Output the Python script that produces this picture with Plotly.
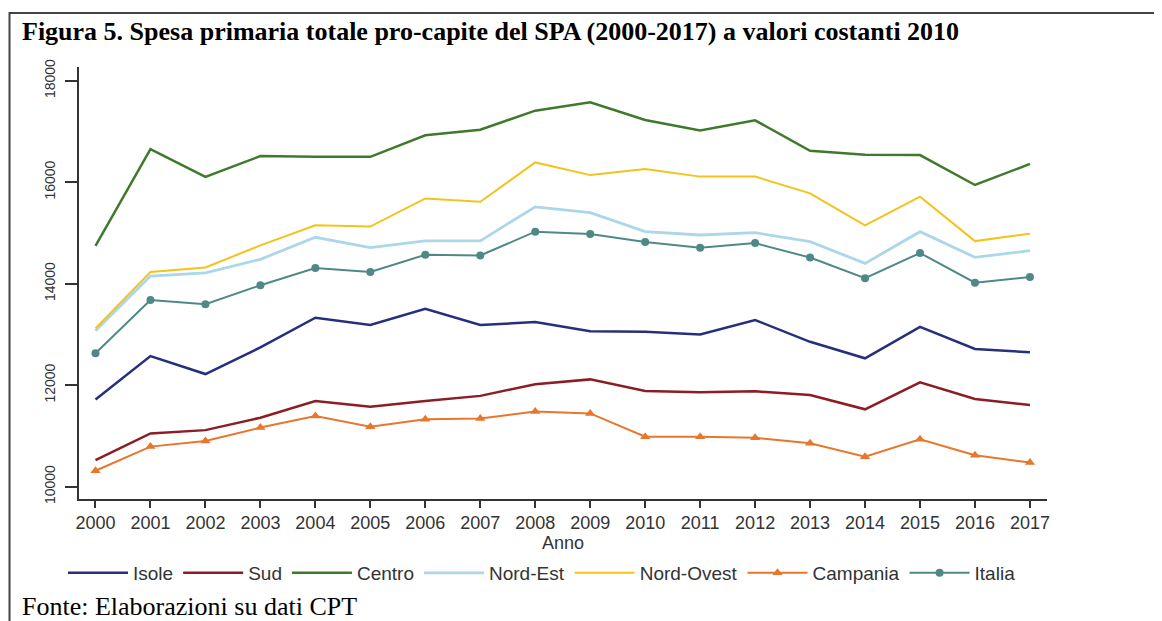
import plotly.graph_objects as go

# Data
anni = list(range(2000, 2018))

isole = [11720, 12575, 12220, 12745, 13330, 13185, 13505, 13185, 13245,
         13065, 13055, 13000, 13285, 12855, 12530, 13150, 12715, 12650]
sud = [10525, 11050, 11115, 11360, 11690, 11575, 11690, 11790, 12020,
       12115, 11885, 11860, 11880, 11805, 11525, 12055, 11730, 11610]
centro = [14745, 16650, 16105, 16515, 16500, 16500, 16925, 17035, 17410,
          17575, 17225, 17020, 17220, 16620, 16540, 16535, 15945, 16360]
nord_est = [13075, 14150, 14215, 14480, 14915, 14710, 14845, 14845, 15515,
            15400, 15025, 14960, 15005, 14830, 14400, 15025, 14520, 14650]
nord_ovest = [13120, 14230, 14320, 14755, 15150, 15125, 15680, 15615, 16390,
              16140, 16260, 16110, 16110, 15780, 15150, 15715, 14840, 14985]
campania = [10315, 10790, 10900, 11165, 11395, 11180, 11330, 11345, 11480,
            11445, 10985, 10985, 10965, 10855, 10590, 10935, 10620, 10475]
italia = [12630, 13680, 13595, 13970, 14310, 14230, 14570, 14555, 15025,
          14980, 14820, 14710, 14800, 14515, 14110, 14605, 14020, 14130]

y_ticks = [10000, 12000, 14000, 16000, 18000]
y_labels = ["10000", "12000", "14000", "16000", "18000"]

serie = [
    ("Isole", isole, "#262f7c", 2.5, None),
    ("Sud", sud, "#8c1d25", 2.5, None),
    ("Centro", centro, "#3f7a2c", 2.5, None),
    ("Nord-Est", nord_est, "#acd6ea", 2.8, None),
    ("Nord-Ovest", nord_ovest, "#f3c31c", 2, None),
    ("Campania", campania, "#e8762c", 2, "triangle-up"),
    ("Italia", italia, "#4f8985", 2, "circle"),
]

fig = go.Figure()
for nome, valori, colore, spessore, simbolo in serie:
    fig.add_trace(go.Scatter(
        x=anni, y=valori, name=nome,
        mode="lines+markers" if simbolo else "lines",
        line=dict(color=colore, width=spessore),
        marker=dict(symbol=simbolo or "circle", size=9 if simbolo == "triangle-up" else 8, color=colore),
    ))

# page has an 8px body margin, so the figure is a bit smaller and shifted
OFF = 8
W, H = 1162 - OFF, 621 - OFF
L, R, T, B = 79 - OFF, 115, 67 - OFF, 122
pw, ph = W - L - R, H - T - B


def px(x):
    # page pixel -> paper fraction
    return (x - OFF - L) / pw


def py(y):
    return (H - B - (y - OFF)) / ph


fig.update_layout(
    width=W, height=H,
    margin=dict(l=L, r=R, t=T, b=B),
    paper_bgcolor="white", plot_bgcolor="white",
    font=dict(family="Liberation Sans, Arial", color="#333333"),
    title=dict(
        text="<b>Figura 5. Spesa primaria totale pro-capite del SPA (2000-2017) a valori costanti 2010</b>",
        x=(22 - OFF) / W, xanchor="left", y=1 - (31 - OFF) / H, yanchor="middle",
        font=dict(family="Liberation Serif, Times New Roman", size=26, color="black"),
    ),
    xaxis=dict(
        range=[1999.70, 2017.31], tickmode="array", tickvals=anni,
        ticks="outside", ticklen=7, tickcolor="#333", tickwidth=1.5, showgrid=False,
        showline=True, linecolor="#333", linewidth=1.5, zeroline=False,
        tickfont=dict(size=18), title=dict(text="Anno", font=dict(size=18), standoff=0),
    ),
    yaxis=dict(
        range=[9758, 18270], tickmode="array", tickvals=y_ticks, ticktext=y_labels,
        ticks="outside", ticklen=12, tickcolor="#333", tickwidth=1.5, showgrid=False,
        showline=True, linecolor="#333", linewidth=1.5, zeroline=False,
        tickangle=-90, tickfont=dict(size=14), ticklabelstandoff=5,
    ),
    legend=dict(
        orientation="h", x=px(63), xanchor="left", y=py(573), yanchor="middle",
        font=dict(size=19), itemwidth=60, bgcolor="rgba(0,0,0,0)",
        tracegroupgap=0,
    ),
    annotations=[dict(
        text="Fonte: Elaborazioni su dati CPT", xref="paper", yref="paper",
        x=px(20), xanchor="left", y=py(606), yanchor="middle", showarrow=False,
        font=dict(family="Liberation Serif, Times New Roman", size=26, color="black"),
    )],
    shapes=[dict(
        type="path", xref="paper", yref="paper",
        path=f"M {px(9.5)},{py(630)} L {px(9.5)},{py(13)} L {px(1170)},{py(13)}",
        line=dict(color="#444", width=2),
    )],
)

fig.write_html("out.html")
